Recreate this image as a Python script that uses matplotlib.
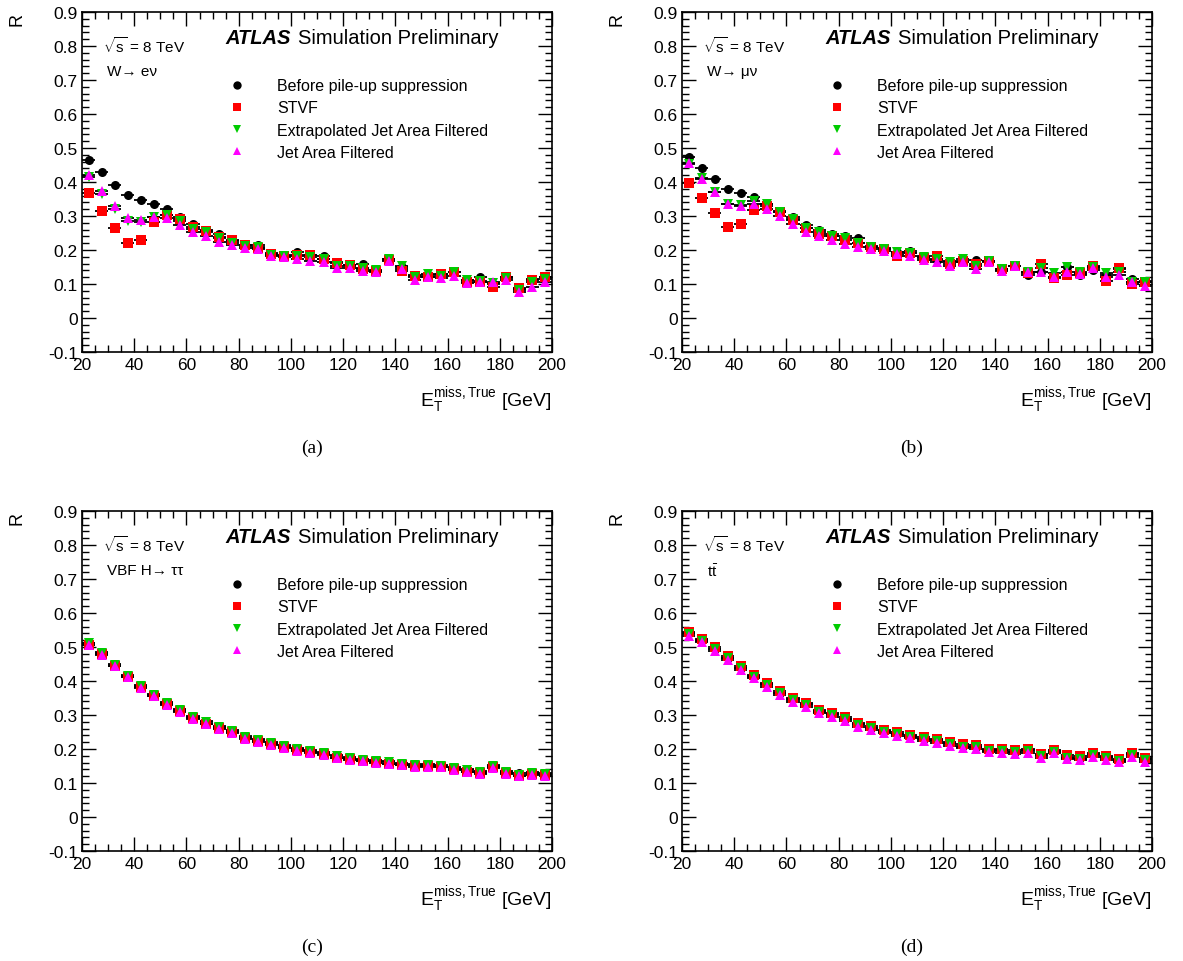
import numpy as np
import matplotlib
matplotlib.use("Agg")
import matplotlib.pyplot as plt
from matplotlib.ticker import MultipleLocator, FuncFormatter
from matplotlib.lines import Line2D

plt.rcParams['font.family'] = ['Liberation Sans', 'DejaVu Sans']
plt.rcParams['mathtext.fontset'] = 'custom'
plt.rcParams['mathtext.rm'] = 'Liberation Sans'
plt.rcParams['mathtext.it'] = 'Liberation Sans:italic'
plt.rcParams['axes.unicode_minus'] = False

# bins of E_T^miss,True (GeV)
bin_edges = np.arange(20, 205, 5)
bin_centers = (bin_edges[:-1] + bin_edges[1:]) / 2
half_width = 2.5

series_names = ["Before pile-up suppression", "STVF",
                "Extrapolated Jet Area Filtered", "Jet Area Filtered"]

# (a) W -> e nu
a_black = [0.466, 0.428, 0.392, 0.362, 0.347, 0.335, 0.320, 0.296, 0.276, 0.260, 0.247, 0.227,
           0.215, 0.214, 0.191, 0.185, 0.195, 0.184, 0.181, 0.164, 0.157, 0.159, 0.139, 0.173,
           0.149, 0.126, 0.126, 0.129, 0.134, 0.112, 0.120, 0.100, 0.122, 0.085, 0.115, 0.120]
a_red = [0.367, 0.315, 0.266, 0.222, 0.229, 0.281, 0.304, 0.291, 0.268, 0.257, 0.238, 0.230,
         0.215, 0.206, 0.188, 0.183, 0.185, 0.184, 0.175, 0.162, 0.156, 0.144, 0.139, 0.171,
         0.139, 0.124, 0.120, 0.129, 0.134, 0.107, 0.107, 0.092, 0.121, 0.087, 0.112, 0.121]
a_green = [0.414, 0.365, 0.321, 0.286, 0.281, 0.296, 0.304, 0.286, 0.262, 0.252, 0.235, 0.222,
           0.213, 0.208, 0.185, 0.181, 0.183, 0.178, 0.173, 0.154, 0.152, 0.148, 0.141, 0.173,
           0.154, 0.121, 0.129, 0.124, 0.134, 0.112, 0.110, 0.102, 0.119, 0.082, 0.107, 0.115]
a_mag = [0.421, 0.374, 0.328, 0.294, 0.288, 0.296, 0.293, 0.274, 0.254, 0.242, 0.224, 0.216,
         0.205, 0.203, 0.181, 0.180, 0.174, 0.169, 0.166, 0.147, 0.147, 0.139, 0.134, 0.167,
         0.144, 0.113, 0.121, 0.118, 0.124, 0.102, 0.107, 0.105, 0.113, 0.077, 0.092, 0.107]

# (b) W -> mu nu
b_black = [0.475, 0.441, 0.409, 0.379, 0.367, 0.355, 0.335, 0.314, 0.296, 0.274, 0.260, 0.247,
           0.240, 0.234, 0.213, 0.206, 0.195, 0.198, 0.183, 0.171, 0.169, 0.164, 0.171, 0.169,
           0.141, 0.154, 0.126, 0.136, 0.120, 0.149, 0.126, 0.142, 0.126, 0.144, 0.115, 0.110]
b_red = [0.397, 0.353, 0.308, 0.269, 0.276, 0.319, 0.330, 0.311, 0.288, 0.265, 0.247, 0.240,
         0.230, 0.222, 0.210, 0.203, 0.183, 0.190, 0.176, 0.181, 0.159, 0.169, 0.159, 0.167,
         0.144, 0.152, 0.132, 0.159, 0.117, 0.126, 0.132, 0.154, 0.110, 0.146, 0.100, 0.105]
b_green = [0.453, 0.412, 0.370, 0.335, 0.332, 0.345, 0.335, 0.311, 0.291, 0.265, 0.252, 0.240,
           0.234, 0.220, 0.210, 0.203, 0.195, 0.191, 0.178, 0.173, 0.164, 0.175, 0.154, 0.169,
           0.144, 0.154, 0.134, 0.146, 0.132, 0.149, 0.134, 0.149, 0.132, 0.134, 0.107, 0.107]
b_mag = [0.456, 0.409, 0.370, 0.335, 0.328, 0.335, 0.322, 0.301, 0.276, 0.254, 0.242, 0.230,
         0.218, 0.210, 0.203, 0.198, 0.188, 0.183, 0.170, 0.164, 0.154, 0.164, 0.144, 0.164,
         0.137, 0.154, 0.134, 0.134, 0.120, 0.136, 0.129, 0.146, 0.120, 0.126, 0.107, 0.093]

# (c) VBF H -> tau tau
c_black = [0.513, 0.485, 0.451, 0.419, 0.387, 0.363, 0.338, 0.317, 0.297, 0.281, 0.268, 0.255,
           0.238, 0.229, 0.221, 0.211, 0.203, 0.196, 0.191, 0.181, 0.176, 0.172, 0.167, 0.164,
           0.160, 0.155, 0.155, 0.154, 0.147, 0.140, 0.135, 0.152, 0.135, 0.128, 0.132, 0.130]
c_red = [0.507, 0.479, 0.445, 0.413, 0.381, 0.356, 0.332, 0.311, 0.291, 0.275, 0.262, 0.249,
         0.232, 0.223, 0.214, 0.205, 0.197, 0.190, 0.185, 0.175, 0.170, 0.166, 0.161, 0.157,
         0.154, 0.149, 0.149, 0.148, 0.141, 0.133, 0.129, 0.146, 0.129, 0.121, 0.126, 0.123]
c_green = [0.511, 0.482, 0.448, 0.416, 0.384, 0.360, 0.335, 0.314, 0.294, 0.278, 0.265, 0.252,
           0.235, 0.226, 0.218, 0.208, 0.200, 0.193, 0.188, 0.178, 0.173, 0.169, 0.164, 0.161,
           0.157, 0.152, 0.152, 0.151, 0.144, 0.137, 0.132, 0.149, 0.132, 0.125, 0.129, 0.127]
c_mag = [0.505, 0.477, 0.443, 0.411, 0.379, 0.355, 0.330, 0.309, 0.289, 0.273, 0.260, 0.247,
         0.230, 0.221, 0.213, 0.203, 0.195, 0.188, 0.183, 0.173, 0.168, 0.164, 0.159, 0.156,
         0.152, 0.147, 0.147, 0.146, 0.139, 0.132, 0.127, 0.144, 0.127, 0.120, 0.124, 0.122]

# (d) ttbar
d_black = [0.540, 0.521, 0.495, 0.469, 0.439, 0.415, 0.390, 0.366, 0.346, 0.331, 0.312, 0.302,
           0.289, 0.273, 0.263, 0.253, 0.245, 0.238, 0.230, 0.226, 0.217, 0.209, 0.207, 0.197,
           0.196, 0.192, 0.196, 0.181, 0.194, 0.177, 0.174, 0.184, 0.176, 0.168, 0.184, 0.170]
d_red = [0.544, 0.525, 0.499, 0.473, 0.443, 0.419, 0.394, 0.370, 0.350, 0.335, 0.316, 0.306,
         0.293, 0.277, 0.267, 0.257, 0.249, 0.242, 0.234, 0.230, 0.221, 0.214, 0.211, 0.201,
         0.200, 0.196, 0.199, 0.185, 0.197, 0.181, 0.178, 0.187, 0.180, 0.171, 0.187, 0.174]
d_green = [0.538, 0.519, 0.493, 0.467, 0.437, 0.413, 0.388, 0.364, 0.344, 0.329, 0.310, 0.300,
           0.287, 0.271, 0.261, 0.251, 0.243, 0.236, 0.228, 0.224, 0.215, 0.207, 0.205, 0.195,
           0.194, 0.190, 0.194, 0.179, 0.192, 0.175, 0.172, 0.182, 0.174, 0.166, 0.182, 0.168]
d_mag = [0.533, 0.514, 0.488, 0.462, 0.432, 0.408, 0.383, 0.359, 0.339, 0.324, 0.305, 0.295,
         0.282, 0.266, 0.256, 0.246, 0.238, 0.231, 0.223, 0.219, 0.210, 0.202, 0.200, 0.190,
         0.189, 0.185, 0.189, 0.174, 0.187, 0.170, 0.167, 0.177, 0.169, 0.161, 0.177, 0.163]

panels = [
    ("(a)", "W\u2192 e\u03bd", [a_black, a_red, a_green, a_mag], 0.008),
    ("(b)", "W\u2192 \u03bc\u03bd", [b_black, b_red, b_green, b_mag], 0.008),
    ("(c)", "VBF H\u2192 \u03c4\u03c4", [c_black, c_red, c_green, c_mag], 0.004),
    ("(d)", r"t$\bar{\mathrm{t}}$", [d_black, d_red, d_green, d_mag], 0.004),
]

styles = [("o", "black", 6.5), ("s", "#ff0000", 6.5), ("v", "#00cc00", 6.5), ("^", "#ff00ff", 7)]

W, H = 1183, 962
fig = plt.figure(figsize=(W / 100, H / 100), dpi=100)

ax_left = [82, 682]
ax_top = [13, 512]
ax_w, ax_h = 470, 340

for i, (tag, process, values, err) in enumerate(panels):
    col, row = i % 2, i // 2
    left = ax_left[col] / W
    bottom = 1 - (ax_top[row] + ax_h) / H
    ax = fig.add_axes([left, bottom, ax_w / W, ax_h / H])

    for (marker, color, ms), y in zip(styles, values):
        ax.errorbar(bin_centers, y, xerr=half_width, yerr=err, fmt=marker, color=color,
                    ecolor="black", elinewidth=1.3, capsize=0, markersize=ms,
                    markeredgewidth=0)

    ax.set_xlim(20, 200)
    ax.set_ylim(-0.1, 0.9)
    ax.xaxis.set_major_locator(MultipleLocator(20))
    ax.xaxis.set_minor_locator(MultipleLocator(5))
    ax.yaxis.set_major_locator(MultipleLocator(0.1))
    ax.yaxis.set_minor_locator(MultipleLocator(0.02))
    ax.yaxis.set_major_formatter(FuncFormatter(lambda v, p: "%g" % round(v, 2)))
    ax.tick_params(which="both", direction="in", top=True, right=True, labelsize=12.5)
    ax.tick_params(which="major", length=10, width=1)
    ax.tick_params(which="minor", length=5, width=1)
    ax.tick_params(axis="y", pad=3)
    for s in ax.spines.values():
        s.set_linewidth(1.2)

    ax.text(-0.138, 1.0, "R", transform=ax.transAxes, rotation=90, ha="center",
            va="top", fontsize=13)
    ax.text(1.0, -0.14, r"$\mathrm{E}_{\mathrm{T}}^{\mathrm{miss,True}}$ [GeV]",
            transform=ax.transAxes, ha="right", va="center", fontsize=14)

    ax.text(0.306, 0.926, "ATLAS", transform=ax.transAxes, fontsize=14.5,
            fontweight="bold", fontstyle="italic", va="center")
    ax.text(0.460, 0.926, "Simulation Preliminary", transform=ax.transAxes, fontsize=14.5,
            va="center")
    ax.text(0.045, 0.903, r"$\sqrt{\mathrm{s}}$ = 8 TeV", transform=ax.transAxes,
            fontsize=11, va="center")
    ax.text(0.053, 0.826, process, transform=ax.transAxes, fontsize=11, va="center")

    handles = [Line2D([], [], marker=m, color=c, linestyle="none", markersize=6,
                      markeredgewidth=0) for m, c, ms in styles]
    ax.legend(handles, series_names, loc="upper left", bbox_to_anchor=(0.295, 0.805),
              frameon=False, fontsize=11.5, handlelength=2.0, handletextpad=1.55,
              labelspacing=0.45, borderaxespad=0, borderpad=0)

    fig.text((ax_left[col] + 230) / W, 1 - (ax_top[row] + 435) / H, tag,
             family="Liberation Serif", fontsize=14, ha="center", va="center")

fig.savefig("out.png", dpi=100)
